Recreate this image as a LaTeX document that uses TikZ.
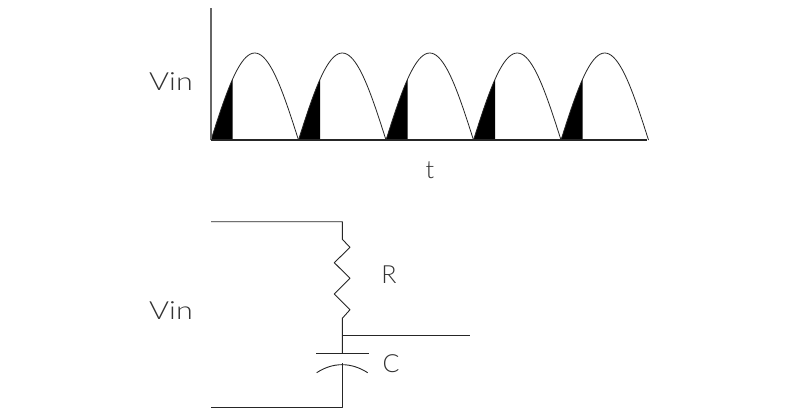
\documentclass[tikz,border=0pt]{standalone}
\usepackage{fontspec}
\setmainfont{Lato Light}
\begin{document}
\begin{tikzpicture}[x=1pt,y=-1pt,
  wire/.style={draw=black!85,line width=0.9pt,line join=round},
  axisline/.style={draw=black!60,line width=1.1pt},
  lbl/.style={inner sep=0pt,text=black!80,font=\fontsize{25}{25}\selectfont}]
\useasboundingbox[fill=white] (0,0) rectangle (800,415);
% named points
\coordinate (axistop) at (211,8);
\coordinate (origin) at (211,140);
\coordinate (axisend) at (647,140);
\coordinate (tl) at (211,221.7);
\coordinate (tr) at (342.3,221.7);
\coordinate (rtop) at (342.3,239.3);
\coordinate (z1) at (350,247.3);
\coordinate (z2) at (334.3,262.7);
\coordinate (z3) at (350,278.3);
\coordinate (z4) at (334.3,294);
\coordinate (z5) at (350,309.7);
\coordinate (rbot) at (342.3,318.3);
\coordinate (junc) at (342.3,335.7);
\coordinate (out) at (470,335.7);
\coordinate (ptop) at (342.3,353.3);
\coordinate (pl) at (316,353.3);
\coordinate (pr) at (369,353.3);
\coordinate (cl) at (316.7,372.7);
\coordinate (cr) at (367.7,372.7);
\coordinate (cmid) at (342.3,363.3);
\coordinate (br) at (342.3,407);
\coordinate (bl) at (211,407);
% black shaded parts and arches
\foreach \s in {211,298.5,386,473.5,561}{
  \fill[black] plot[domain=0:21.5,samples=15] ({\s+\x},{140-87*sin(\x/87.5*180)}) -- ({\s+21.5},140) -- cycle;
  \draw[wire,line width=0.8pt] plot[domain=0:87.5,samples=41] ({\s+\x},{140-87*sin(\x/87.5*180)});
}
\draw[axisline] (axistop) -- (origin);
\draw[wire,line width=1.1pt] (origin) -- (axisend);
% circuit
\draw[wire] (tl) -- (tr) -- (rtop) -- (z1) -- (z2) -- (z3) -- (z4) -- (z5) -- (rbot) -- (junc) -- (ptop);
\draw[wire] (junc) -- (out);
\draw[wire] (pl) -- (pr);
\draw[wire] (cl) .. controls (333,362) and (351,362) .. (cr);
\draw[wire] (cmid) -- (br) -- (bl);
% labels
\node[lbl] (vin1) at (171,82) {\scalebox{1.22}[1]{Vin}};
\node[lbl] (tlabel) at (430,170) {t};
\node[lbl] (vin2) at (171,311) {\scalebox{1.22}[1]{Vin}};
\node[lbl] (rlabel) at (389,275) {R};
\node[lbl] (clabel) at (391,364) {C};
\end{tikzpicture}
\end{document}
